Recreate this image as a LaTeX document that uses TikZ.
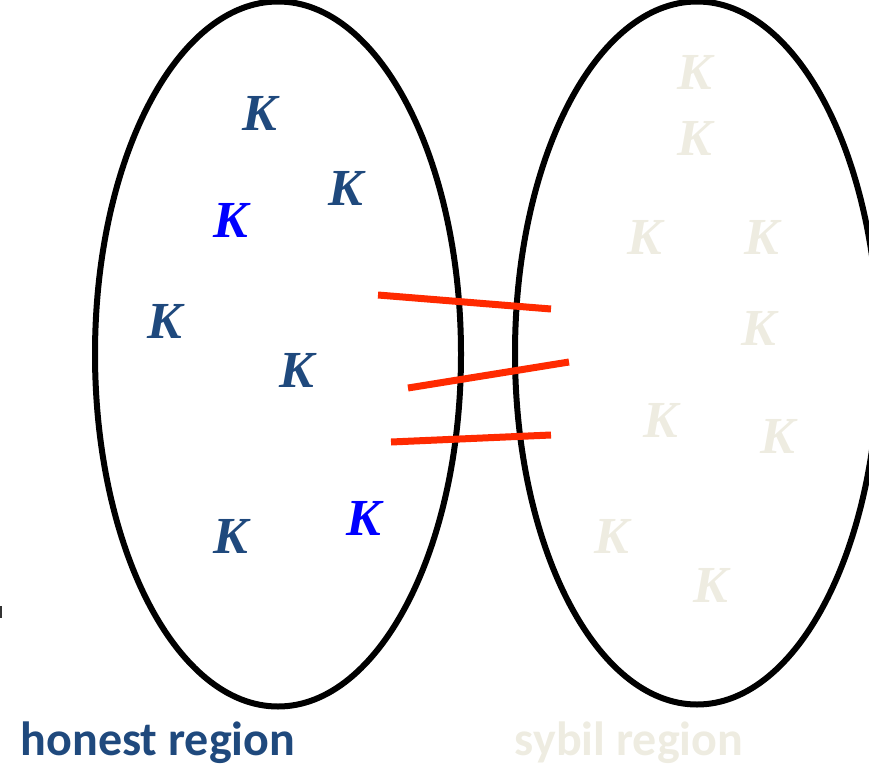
\documentclass[tikz,border=0pt]{standalone}
\usepackage{fontspec}
\setmainfont{Liberation Serif}
\newfontfamily\kfont{Liberation Serif}[BoldItalicFont={* Bold Italic}]
\newfontfamily\labelfont{Carlito}
\usetikzlibrary{shapes.geometric}
\definecolor{darkblue}{HTML}{1F497D}
\definecolor{brightblue}{HTML}{0000FF}
\definecolor{sybilcol}{HTML}{EEECE1}
\definecolor{edgered}{HTML}{FF2A00}
\begin{document}
\begin{tikzpicture}[x=1pt,y=-1pt,
  region/.style={draw=black,line width=6pt,ellipse,inner sep=0pt},
  kay/.style={font=\kfont\fontsize{52}{52}\selectfont\bfseries\itshape,inner sep=0pt},
  honestk/.style={kay,text=darkblue},
  activek/.style={kay,text=brightblue},
  sybilk/.style={kay,text=sybilcol},
  attack/.style={draw=edgered,line width=7pt},
  lbl/.style={font=\labelfont\fontsize{48}{48}\selectfont\bfseries,inner sep=0pt}]
\useasboundingbox (0,0) rectangle (869,768);
\begin{scope}
\clip (0,0) rectangle (869,768);
\node[region,minimum width=366pt,minimum height=705pt] (honest) at (278,354) {};
\node[region,minimum width=364pt,minimum height=703pt] (sybil) at (697,353) {};
\end{scope}
% honest K's
\node[honestk] (h1) at (260,113) {K};
\node[honestk] (h2) at (346,188) {K};
\node[activek] (h3) at (231,220) {K};
\node[honestk] (h4) at (165,321) {K};
\node[honestk] (h5) at (297,370) {K};
\node[honestk] (h6) at (231,536) {K};
\node[activek] (h7) at (364,518) {K};
% sybil K's
\node[sybilk] (s1) at (695,72) {K};
\node[sybilk] (s2) at (695,138) {K};
\node[sybilk] (s3) at (645,237) {K};
\node[sybilk] (s4) at (762,237) {K};
\node[sybilk] (s5) at (759,328) {K};
\node[sybilk] (s6) at (661,420) {K};
\node[sybilk] (s7) at (778,436) {K};
\node[sybilk] (s8) at (612,536) {K};
\node[sybilk] (s9) at (711,585) {K};
% attack edges
\coordinate (a1) at (378,295); \coordinate (b1) at (551,309);
\coordinate (a2) at (408,388); \coordinate (b2) at (569,362);
\coordinate (a3) at (391,442); \coordinate (b3) at (551,435);
\draw[attack] (a1) -- (b1);
\draw[attack] (a2) -- (b2);
\draw[attack] (a3) -- (b3);
% labels
\node[lbl,text=darkblue] (hl) at (158,743) {honest region};
\node[lbl,text=sybilcol] (sl) at (629,743) {sybil region};
% small mark at left edge
\fill[black!80] (0,606) rectangle (2,618);
\end{tikzpicture}
\end{document}
